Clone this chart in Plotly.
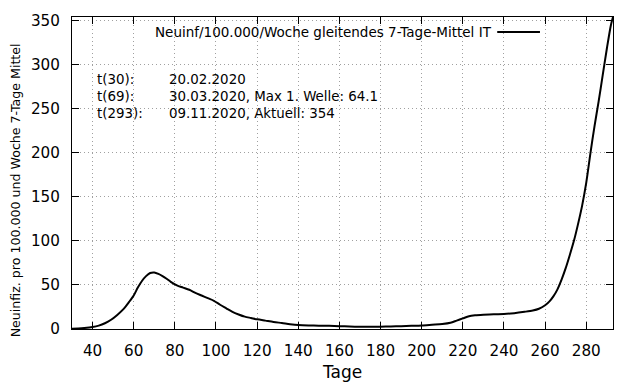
import plotly.graph_objects as go

# --- data ---
tage = [30, 33, 36, 40, 43, 46, 49, 52, 55, 58, 60, 62, 64, 66, 68, 70, 72, 74, 76, 78, 81,
        84, 87, 90, 93, 96, 99, 102, 105, 108, 111, 114, 117, 120, 124, 128, 132, 136, 140,
        145, 150, 155, 160, 165, 170, 175, 180, 185, 190, 195, 200, 205, 210, 214, 217, 220,
        223, 226, 230, 235, 240, 245, 250, 254, 257, 260, 262, 264, 266, 268, 270, 272, 274,
        276, 278, 280, 282, 284, 286, 288, 290, 292, 293]
neuinf = [0.3, 0.6, 1.1, 2.2, 3.8, 6.5, 10.5, 16, 22.5, 31.5, 38, 47, 54.5, 60, 63.5, 64.1, 62.5, 60, 57, 53.5, 49.5,
          47, 44.5, 41, 38, 35, 32, 27.5, 23.5, 19.5, 16.5, 14, 12.5, 11, 9.5, 8, 6.8, 5.5, 4.5,
          4, 3.8, 3.6, 3.2, 2.8, 2.6, 2.5, 2.6, 2.9, 3.2, 3.6, 4, 4.8, 5.6, 7, 9.5, 12,
          14.5, 15.5, 16.2, 16.8, 17, 18, 19.5, 21, 23, 27, 31, 37, 45, 56, 69, 84, 100,
          119, 140, 166, 199, 230, 258, 288, 318, 345, 354]

x_ticks = [40, 60, 80, 100, 120, 140, 160, 180, 200, 220, 240, 260, 280]
y_ticks = [0, 50, 100, 150, 200, 250, 300, 350]

legend_text = "Neuinf/100.000/Woche gleitendes 7-Tage-Mittel IT"
info_labels = ["t(30):", "t(69):", "t(293):"]
info_texts = ["20.02.2020", "30.03.2020, Max 1. Welle: 64.1", "09.11.2020, Aktuell: 354"]
x_title = "Tage"
y_title = "Neuinfiz. pro 100.000 und Woche 7-Tage Mittel"

FONT = "DejaVu Sans"

fig = go.Figure()
fig.add_trace(go.Scatter(x=tage, y=neuinf, mode="lines",
                         line=dict(color="black", width=2, shape="spline", smoothing=0.8),
                         showlegend=False, hoverinfo="skip"))

axis_common = dict(showline=True, linecolor="black", linewidth=1, mirror="allticks",
                   ticks="inside", ticklen=7, tickcolor="black", tickwidth=1,
                   showgrid=True, gridcolor="#a0a0a0", griddash="1px,3px", gridwidth=1,
                   zeroline=False, ticklabelstandoff=8,
                   tickfont=dict(family=FONT, size=15.2, color="black"))

fig.update_xaxes(range=[30, 293], tickvals=x_ticks, **axis_common)
fig.update_yaxes(range=[0, 354], tickvals=y_ticks, **axis_common)

ann = []
# legend
ann.append(dict(xref="paper", yref="paper", x=0.78, y=0.952, xanchor="right", yanchor="middle",
                text=legend_text, showarrow=False, font=dict(family=FONT, size=13.5, color="black")))
# info text
ys = [0.799, 0.744, 0.690]
for lab, txt, yy in zip(info_labels, info_texts, ys):
    ann.append(dict(xref="paper", yref="paper", x=0.043, y=yy, xanchor="left", yanchor="middle",
                    text=lab, showarrow=False, font=dict(family=FONT, size=13.4, color="black")))
    ann.append(dict(xref="paper", yref="paper", x=0.176, y=yy, xanchor="left", yanchor="middle",
                    text=txt, showarrow=False, font=dict(family=FONT, size=13.4, color="black")))
# axis titles
ann.append(dict(xref="paper", yref="paper", x=0.499, y=-0.138, xanchor="center", yanchor="middle",
                text=x_title, showarrow=False, font=dict(family=FONT, size=17, color="black")))
ann.append(dict(xref="paper", yref="paper", x=-0.105, y=0.445, xanchor="center", yanchor="middle",
                text=y_title, textangle=-90, showarrow=False,
                font=dict(family=FONT, size=12.6, color="black")))

fig.update_layout(
    width=640, height=384,
    margin=dict(l=72, r=27, t=17, b=55),
    paper_bgcolor="white", plot_bgcolor="white",
    annotations=ann,
    shapes=[dict(type="line", xref="paper", yref="paper", x0=0.786, x1=0.865, y0=0.952, y1=0.952,
                 line=dict(color="black", width=2))],
)

fig.write_html("out.html", config={"displayModeBar": False},
               post_script="document.body.style.margin='0';document.body.style.overflow='hidden';")
